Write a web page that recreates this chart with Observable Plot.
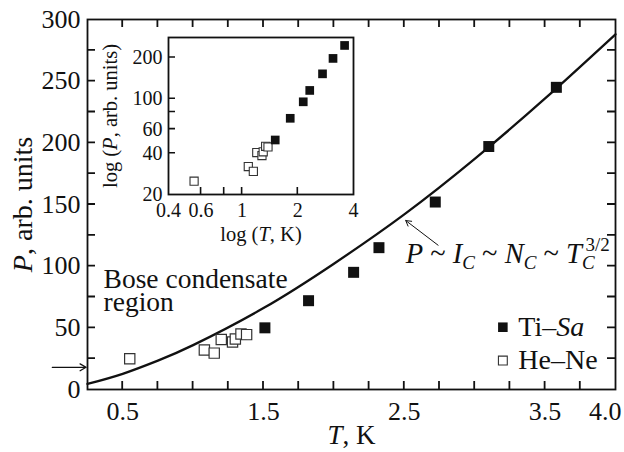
<!DOCTYPE html>
<html><head><meta charset="utf-8">
<script src="https://cdn.jsdelivr.net/npm/d3@7"></script>
<script src="https://cdn.jsdelivr.net/npm/@observablehq/plot@0.6"></script>
<style>
body{margin:0;background:#fff;}
#chart{position:relative;width:624px;height:452px;}
#inset{position:absolute;left:100px;top:30px;}
svg{overflow:visible;}
svg text{font-family:"Liberation Serif","Times New Roman",serif;white-space:pre;}
</style></head><body><div id="chart"><div id="main"></div><div id="inset"></div></div>
<script>
// Data
const tiSaT = [1.51, 1.82, 2.14, 2.32, 2.72, 3.10, 3.58];
const tiSaP = [50, 72, 95, 115, 152, 197, 245];
const heNeT = [0.55, 1.08, 1.15, 1.20, 1.28, 1.30, 1.34, 1.38];
const heNeP = [25, 32, 29.5, 40.5, 38.5, 41, 45, 44.5];
// fitted curve P ~ T^(3/2)
const curveT = [0.25, 0.5, 0.75, 1.0, 1.5, 2.0, 2.5, 3.0, 3.5, 4.0];
const curveP = [4.5, 12.7, 23.4, 36, 66, 102, 142, 187, 236, 288];
// ticks
const xTicks = [0.5, 0.75, 1.0, 1.25, 1.5, 1.75, 2.0, 2.25, 2.5, 2.75, 3.0, 3.25, 3.5, 3.75];
const xTickLabels = [0.5, 1.5, 2.5, 3.5];
const xEndLabel = [4.0];
const yTicks = [25, 50, 75, 100, 125, 150, 175, 200, 225, 250, 275];
const yTickLabels = [0, 50, 100, 150, 200, 250, 300];
const insetXTicks = [0.6, 0.8, 1, 2];
const insetXLabels = [0.4, 0.6, 1, 2, 4];
const insetYTicks = [40, 60, 80, 100, 200];
const insetYLabels = [20, 40, 60, 100, 200];
// texts
const seriesNames = ["Ti–Sa", "He–Ne"];
const xLabel = "T, K";
const yLabel = "P, arb. units";
const insetXLabel = "log (T, K)";
const insetYLabel = "log (P, arb. units)";
const regionLines = ["Bose condensate", "region"];
const formula = "P ~ IC ~ NC ~ TC3/2";

const tiSa = tiSaT.map((t, i) => ({T: t, P: tiSaP[i]}));
const heNe = heNeT.map((t, i) => ({T: t, P: heNeP[i]}));
const curve = curveT.map((t, i) => ({T: t, P: curveP[i]}));

const ink = "#111";
const xDom = [0.25, 4.0], yDom = [0, 300];

const main = Plot.plot({
  width: 624, height: 452,
  marginLeft: 87, marginRight: 9, marginTop: 19, marginBottom: 63,
  style: {fontFamily: "Liberation Serif", background: "transparent", color: ink},
  x: {domain: xDom},
  y: {domain: yDom},
  marks: [
    Plot.frame({stroke: ink, strokeWidth: 1.8}),
    Plot.axisX({ticks: xTickLabels, anchor: "bottom", tickSize: 0, tickPadding: 12, fontSize: 26, tickFormat: d3.format(".1f"), label: null}),
    Plot.axisX({ticks: xEndLabel, anchor: "bottom", tickSize: 0, tickPadding: 12, fontSize: 26, textAnchor: "end", dx: 6, tickFormat: d3.format(".1f"), label: null}),
    Plot.axisY({ticks: yTickLabels, anchor: "left", tickSize: 0, tickPadding: 7, fontSize: 26, label: null}),
    Plot.line(curve, {x: "T", y: "P", curve: "natural", stroke: ink, strokeWidth: 2.3}),
    Plot.dot(heNe, {x: "T", y: "P", symbol: "square", r: 5.8, fill: "white", stroke: "#333", strokeWidth: 1.2}),
    Plot.dot(tiSa, {x: "T", y: "P", symbol: "square", r: 6.2, fill: ink, stroke: "none"}),
    // legend
    Plot.dot([seriesNames[0]], {x: () => 3.2, y: () => 50.5, symbol: "square", r: 5.4, fill: ink, stroke: "none"}),
    Plot.dot([seriesNames[1]], {x: () => 3.2, y: () => 23.5, symbol: "square", r: 5.0, fill: "white", stroke: "#333", strokeWidth: 1.1}),
    Plot.text([seriesNames[0]], {x: () => 3.31, y: () => 50.5, text: d => d, textAnchor: "start", fontSize: 28, fill: ink}),
    Plot.text([seriesNames[1]], {x: () => 3.31, y: () => 23.5, text: d => d, textAnchor: "start", fontSize: 28, fill: ink}),
    // annotations
    Plot.text([regionLines[0]], {x: () => 0.364, y: () => 82.1, text: d => d, textAnchor: "start", lineAnchor: "bottom", fontSize: 27.5, fill: ink}),
    Plot.text([regionLines[1]], {x: () => 0.364, y: () => 63.7, text: d => d, textAnchor: "start", lineAnchor: "bottom", fontSize: 27.5, fill: ink}),
    Plot.text([formula], {x: () => 2.51, y: () => 102.4, text: d => d, textAnchor: "start", lineAnchor: "bottom", fontSize: 28.5, fill: ink}),
    Plot.arrow([formula], {x1: () => 2.74, y1: () => 117, x2: () => 2.51, y2: () => 137, stroke: ink, strokeWidth: 1, headLength: 9}),
    Plot.arrow([0], {x1: () => 0.0, y1: () => 18, x2: () => 0.24, y2: () => 18, stroke: ink, strokeWidth: 1.3, headLength: 8}),
    // axis titles
    Plot.text([xLabel], {frameAnchor: "bottom", text: d => d, dy: 54, lineAnchor: "bottom", textAnchor: "middle", fontSize: 27, fill: ink}),
    Plot.text([yLabel], {frameAnchor: "left", text: d => d, dx: -64, rotate: -90, textAnchor: "middle", lineAnchor: "middle", fontSize: 28, fill: ink})
  ]
});
document.getElementById("main").appendChild(main);

const ixDom = [0.4, 4], iyDom = [20, 280];
const inset = Plot.plot({
  width: 258, height: 214,
  marginLeft: 68, marginRight: 5, marginTop: 7, marginBottom: 50,
  style: {fontFamily: "Liberation Serif", background: "transparent", color: ink},
  x: {type: "log", domain: ixDom},
  y: {type: "log", domain: iyDom},
  marks: [
    Plot.frame({fill: "white", stroke: ink, strokeWidth: 1.8}),
    Plot.axisX({ticks: insetXLabels, anchor: "bottom", tickSize: 0, tickPadding: 8, fontSize: 20, tickFormat: d => String(d), label: null}),
    Plot.axisY({ticks: insetYLabels, anchor: "left", tickSize: 0, tickPadding: 6, fontSize: 20, tickFormat: d => String(d), label: null}),
    Plot.dot(heNe, {x: "T", y: "P", symbol: "square", r: 4.6, fill: "white", stroke: "#333", strokeWidth: 1.1}),
    Plot.dot(tiSa, {x: "T", y: "P", symbol: "square", r: 4.9, fill: ink, stroke: "none"}),
    Plot.text([insetXLabel], {frameAnchor: "bottom", text: d => d, dy: 46, lineAnchor: "bottom", textAnchor: "middle", fontSize: 20.5, fill: ink}),
    Plot.text([insetYLabel], {frameAnchor: "left", text: d => d, dx: -58, rotate: -90, textAnchor: "middle", lineAnchor: "middle", fontSize: 20.5, fill: ink})
  ]
});
document.getElementById("inset").appendChild(inset);

// inward tick marks, positioned with the plots' own scales
function inwardTicks(svg, xs, ys, xVals, yVals, sides, len, width) {
  const sx = svg.scale("x"), sy = svg.scale("y");
  const [x0, x1] = sx.range, [y0, y1] = sy.range;  // y0 bottom, y1 top
  let d = "";
  for (const v of xVals) {
    const px = sx.apply(v);
    if (sides.includes("bottom")) d += `M${px},${y0}V${y0 - len}`;
    if (sides.includes("top")) d += `M${px},${y1}V${y1 + len}`;
  }
  for (const v of yVals) {
    const py = sy.apply(v);
    if (sides.includes("left")) d += `M${x0},${py}H${x0 + len}`;
    if (sides.includes("right")) d += `M${x1},${py}H${x1 - len}`;
  }
  d3.select(svg).append("path").attr("d", d).attr("fill", "none")
    .attr("stroke", ink).attr("stroke-width", width);
}
inwardTicks(main, "x", "y", xTicks, yTicks, ["bottom", "top", "left", "right"], 8, 1.8);
inwardTicks(inset, "x", "y", insetXTicks, insetYTicks, ["bottom", "left"], 7, 1.6);

function rich(svg, plain, html) {
  d3.select(svg).selectAll("text").filter(function () { return this.textContent === plain; }).html(html);
}
const it = s => `<tspan font-style="italic">${s}</tspan>`;
const sub = s => `<tspan font-style="italic" font-size="19" dy="6">${s}</tspan>`;
rich(main, formula,
  `${it("P")} ~ ${it("I")}${sub("C")}<tspan dy="-6"> ~ </tspan>${it("N")}${sub("C")}<tspan dy="-6"> ~ </tspan>${it("T")}${sub("C")}<tspan font-size="19" dx="-9" dy="-18">3/2</tspan>`);
rich(main, seriesNames[0], `Ti–${it("Sa")}`);
rich(main, xLabel, `${it("T")}, K`);
rich(main, yLabel, `${it("P")}, arb. units`);
rich(inset, insetXLabel, `log (${it("T")}, K)`);
rich(inset, insetYLabel, `log (${it("P")}, arb. units)`);
</script></body></html>
